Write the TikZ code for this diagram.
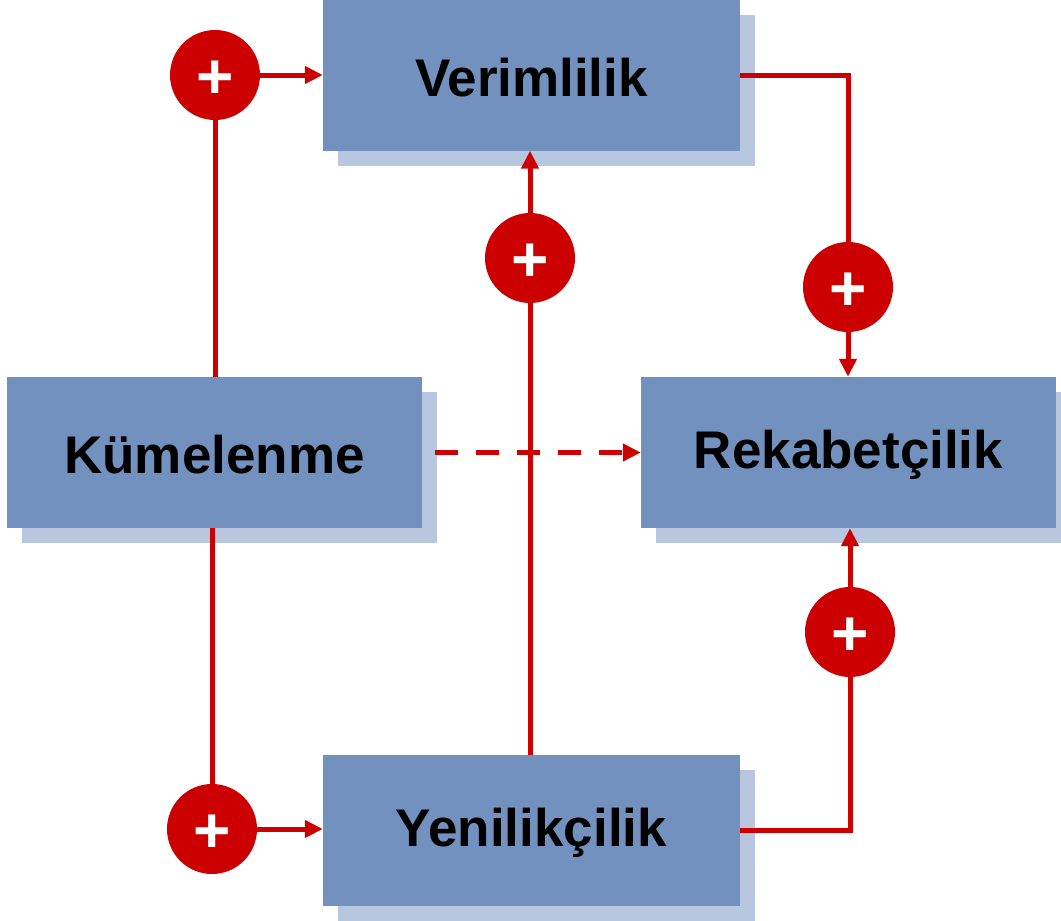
\documentclass[tikz,border=0pt]{standalone}
\usepackage{fontspec}
\setmainfont{Liberation Sans}
\usetikzlibrary{arrows.meta,shadows}
\definecolor{boxc}{HTML}{7391BF}
\definecolor{shadc}{HTML}{B8C7DF}
\definecolor{redc}{HTML}{CC0000}
\pgfdeclarelayer{fg}
\pgfsetlayers{main,fg}
\tikzset{
  box/.style={rectangle, fill=boxc, inner sep=0pt, minimum width=417pt, minimum height=151pt,
    font=\fontsize{53}{60}\selectfont\bfseries,
    general shadow={fill=shadc, shadow xshift=15pt, shadow yshift=-15pt}},
  plusc/.style={circle, fill=redc, minimum size=90pt, inner sep=0pt, text=white,
    font=\fontsize{64}{64}\selectfont\bfseries},
  link/.style={draw=redc, line width=5pt},
  arr/.style={link, -{Triangle[length=18pt,width=17pt]}},
}
\newcommand{\lbl}[1]{\raisebox{-2.5pt}[\height][\depth]{#1}}
\newcommand{\pls}{\raisebox{-4.5pt}[\height][\depth]{+}}
\begin{document}
\begin{tikzpicture}[x=1pt,y=-1pt]
\useasboundingbox (0,0) rectangle (1061,921);
\node[box] (ver) at (531.5,75) {\lbl{Verimlilik}};
\node[box, minimum width=415pt] (kum) at (214.5,452.5) {\lbl{Kümelenme}};
\node[box, minimum width=415pt] (rek) at (848.5,452.5) {\lbl{Rekabetçilik}};
\node[box] (yen) at (531.5,830.5) {\lbl{Yenilikçilik}};
\begin{pgfonlayer}{fg}
\node[plusc] (p1) at (215,75) {\pls};
\node[plusc] (p2) at (530,258) {\pls};
\node[plusc] (p3) at (848,287) {\pls};
\node[plusc] (p4) at (850,632) {\pls};
\node[plusc] (p5) at (212,829) {\pls};
\end{pgfonlayer}
\draw[link] (p1 |- kum.north) -- (p1);
\draw[arr] (p1) -- (ver.west |- p1);
\draw[link] (p5 |- kum.south) -- (p5);
\draw[arr] (p5) -- (yen.west |- p5);
\draw[arr] (p2 |- yen.north) -- (p2 |- ver.south);
\draw[link] (ver.east) -| (p3);
\draw[arr] (p3) -- (p3 |- rek.north);
\draw[link] (yen.east) -| (p4);
\draw[arr] (p4) -- (p4 |- rek.south);
\draw[arr, dash pattern=on 23pt off 18pt] ([xshift=13pt]kum.east) -- (rek.west);
\end{tikzpicture}
\end{document}
